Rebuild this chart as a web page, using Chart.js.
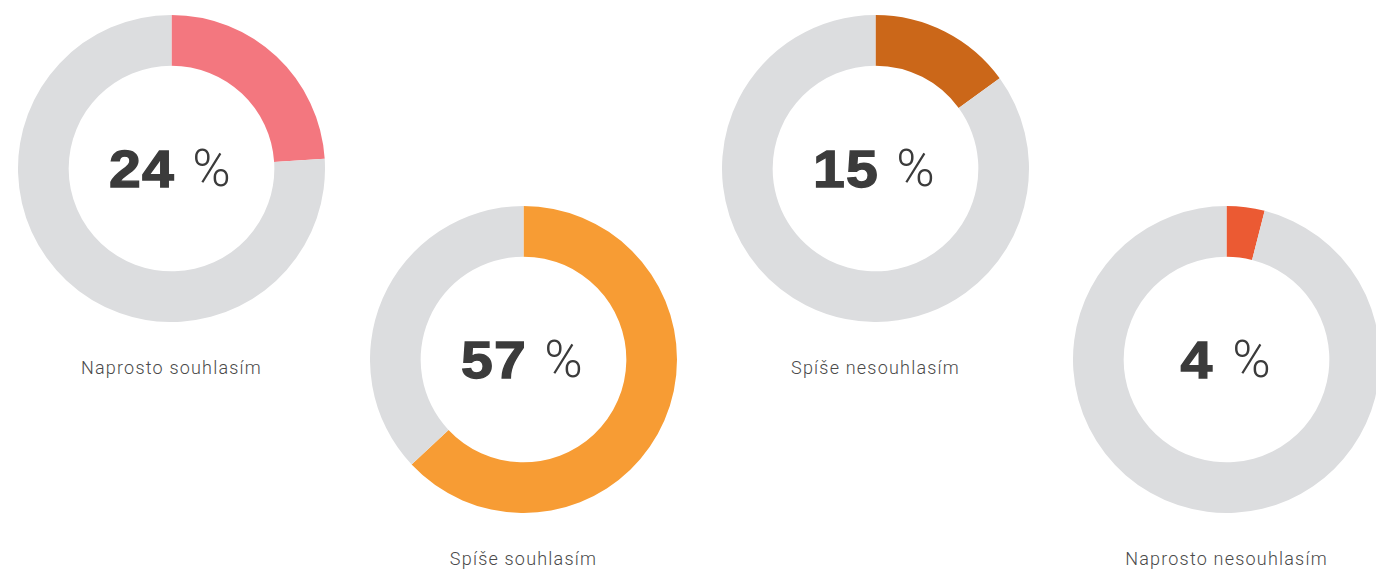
<!DOCTYPE html>
<html>
<head>
<meta charset="utf-8">
<script src="https://cdn.jsdelivr.net/npm/chart.js@4.4.0/dist/chart.umd.min.js"></script>
<style>
  body { margin: 0; background: #fff; width: 1376px; height: 570px; overflow: hidden; position: relative; }
  .ring { position: absolute; width: 307px; height: 307px; }
  .ring canvas { position: absolute; left: 0; top: 0; }
  .center { position: absolute; left: 0; top: 0; width: 307px; height: 307px; display: flex; align-items: center; justify-content: center; line-height: 1; color: #3b3b3b; font-size: 52px; pointer-events: none; }
  .center b { display: inline-block; font-family: "Liberation Sans", Arial, sans-serif; font-weight: 700; letter-spacing: 1px; transform: scaleX(1.1); -webkit-text-stroke: 1.3px #3b3b3b; }
  .center span { font-family: "Roboto", "Liberation Sans", sans-serif; font-weight: 300; margin-left: 20px; }
  .label { position: absolute; width: 307px; text-align: center; font-family: "Roboto", "Liberation Sans", sans-serif; font-weight: 300; font-size: 18px; line-height: 20px; letter-spacing: 1.2px; color: #4a4a4a; }
</style>
</head>
<body>

<script>
// hodnoty
var answers = ['Naprosto souhlasím', 'Spíše souhlasím', 'Spíše nesouhlasím', 'Naprosto nesouhlasím'];
var share = [24, 57, 15, 4];          // čísla uprostřed kruhů
var arc = [24, 63, 15, 4];            // délka barevného oblouku, jak je nakreslen
var rest = [76, 37, 85, 96];          // šedý zbytek
var colors = ['#f3777f', '#f79c34', '#cb6719', '#eb5a33'];
var grey = '#dcdddf';

// pozice kruhů na stránce
var spots = [
    { left: 18, top: 15 },
    { left: 370, top: 206 },
    { left: 722, top: 15 },
    { left: 1073, top: 206 }
];

for (let i = 0; i < answers.length; i++) {
    var box = document.createElement('div');
    box.className = 'ring';
    box.style.left = spots[i].left + 'px';
    box.style.top = spots[i].top + 'px';

    var cv = document.createElement('canvas');
    box.appendChild(cv);

    var mid = document.createElement('div');
    mid.className = 'center';
    mid.innerHTML = '<b>' + share[i] + '</b><span>%</span>';
    box.appendChild(mid);
    document.body.appendChild(box);

    var lab = document.createElement('div');
    lab.className = 'label';
    lab.style.left = spots[i].left + 'px';
    lab.style.top = (spots[i].top + 343) + 'px';
    lab.textContent = answers[i];
    document.body.appendChild(lab);

    new Chart(cv.getContext('2d'), {
        type: 'doughnut',
        data: {
            labels: [answers[i], ''],
            datasets: [{
                data: [arc[i], rest[i]],
                backgroundColor: [colors[i], grey],
                borderWidth: 0,
                hoverOffset: 0
            }]
        },
        options: {
            responsive: true,
            maintainAspectRatio: false,
            animation: false,
            cutout: '67%',
            layout: { padding: 0 },
            plugins: {
                legend: { display: false },
                tooltip: { enabled: false }
            }
        }
    });
}
</script>
</body>
</html>
